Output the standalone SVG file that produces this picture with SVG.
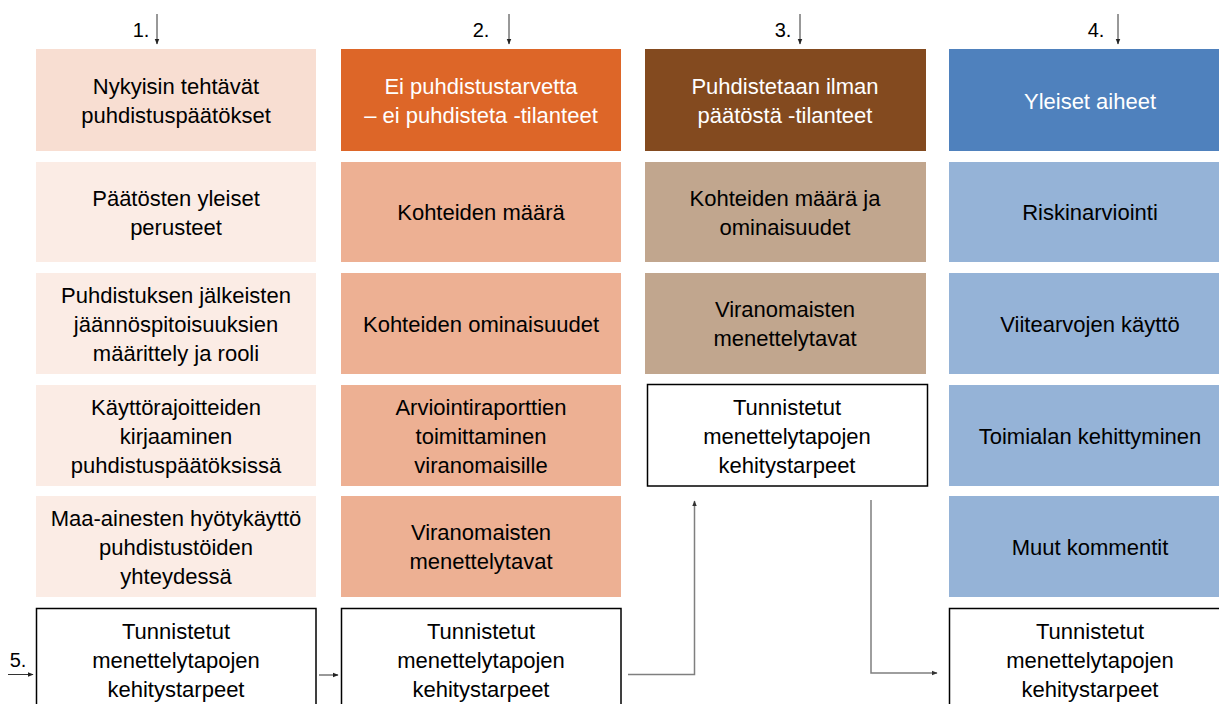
<svg xmlns="http://www.w3.org/2000/svg" width="1219" height="704" viewBox="0 0 1219 704">
  <defs>
    <marker id="arr" viewBox="0 0 10 10" refX="9" refY="5" markerWidth="6" markerHeight="6" markerUnits="userSpaceOnUse" orient="auto">
      <path d="M0,1 L10,5 L0,9 z" fill="#222"/>
    </marker>
    <marker id="arrg" viewBox="0 0 10 10" refX="9" refY="5" markerWidth="6" markerHeight="6" markerUnits="userSpaceOnUse" orient="auto">
      <path d="M0,1 L10,5 L0,9 z" fill="#333"/>
    </marker>
  </defs>
  <style>
    text { font-family: "Liberation Sans", Arial, sans-serif; font-size: 22px; text-anchor: middle; fill: #000; }
    .w { fill: #fff; }
    .num { font-size: 20px; }
    .c1h { fill: #F8DED2; }
    .c1 { fill: #FBECE5; }
    .c2h { fill: #DD6628; }
    .c2 { fill: #EDB093; }
    .c3h { fill: #834A1F; }
    .c3 { fill: #C1A68E; }
    .c4h { fill: #4F81BD; }
    .c4 { fill: #95B3D7; }
    .open { fill: #fff; stroke: #000; stroke-width: 1.5; }
    .short { fill: none; stroke: #333; stroke-width: 1; }
    .route { fill: none; stroke: #7f7f7f; stroke-width: 1.5; }
  </style>

  <rect width="1219" height="704" fill="#fff"/>

  <!-- column numbers -->
  <g id="labels">
    <text class="num" x="141" y="37">1.</text>
    <text class="num" x="481" y="37">2.</text>
    <text class="num" x="783" y="37">3.</text>
    <text class="num" x="1096" y="37">4.</text>
    <text class="num" x="18" y="667">5.</text>
  </g>

  <!-- column 1 -->
  <g id="c1r1"><rect class="c1h" x="36" y="49" width="280" height="102"/>
    <text x="176" y="94">Nykyisin tehtävät</text><text x="176" y="123">puhdistuspäätökset</text></g>
  <g id="c1r2"><rect class="c1" x="36" y="162" width="280" height="100"/>
    <text x="176" y="206">Päätösten yleiset</text><text x="176" y="235">perusteet</text></g>
  <g id="c1r3"><rect class="c1" x="36" y="273" width="280" height="101"/>
    <text x="176" y="303">Puhdistuksen jälkeisten</text><text x="176" y="332">jäännöspitoisuuksien</text><text x="176" y="361">määrittely ja rooli</text></g>
  <g id="c1r4"><rect class="c1" x="36" y="385" width="280" height="101"/>
    <text x="176" y="415">Käyttörajoitteiden</text><text x="176" y="444">kirjaaminen</text><text x="176" y="473">puhdistuspäätöksissä</text></g>
  <g id="c1r5"><rect class="c1" x="36" y="496" width="280" height="101"/>
    <text x="176" y="526">Maa-ainesten hyötykäyttö</text><text x="176" y="555">puhdistustöiden</text><text x="176" y="584">yhteydessä</text></g>
  <g id="c1r6"><rect class="open" x="36.5" y="608.5" width="279.5" height="110"/>
    <text x="176" y="639">Tunnistetut</text><text x="176" y="668">menettelytapojen</text><text x="176" y="697">kehitystarpeet</text></g>

  <!-- column 2 -->
  <g id="c2r1"><rect class="c2h" x="341" y="49" width="280" height="102"/>
    <text class="w" x="481" y="94">Ei puhdistustarvetta</text><text class="w" x="481" y="123">– ei puhdisteta -tilanteet</text></g>
  <g id="c2r2"><rect class="c2" x="341" y="162" width="280" height="100"/>
    <text x="481" y="220">Kohteiden määrä</text></g>
  <g id="c2r3"><rect class="c2" x="341" y="273" width="280" height="101"/>
    <text x="481" y="332">Kohteiden ominaisuudet</text></g>
  <g id="c2r4"><rect class="c2" x="341" y="385" width="280" height="101"/>
    <text x="481" y="415">Arviointiraporttien</text><text x="481" y="444">toimittaminen</text><text x="481" y="473">viranomaisille</text></g>
  <g id="c2r5"><rect class="c2" x="341" y="496" width="280" height="101"/>
    <text x="481" y="540">Viranomaisten</text><text x="481" y="569">menettelytavat</text></g>
  <g id="c2r6"><rect class="open" x="341.5" y="608.5" width="279.5" height="110"/>
    <text x="481" y="639">Tunnistetut</text><text x="481" y="668">menettelytapojen</text><text x="481" y="697">kehitystarpeet</text></g>

  <!-- column 3 -->
  <g id="c3r1"><rect class="c3h" x="645" y="49" width="281" height="102"/>
    <text class="w" x="785" y="94">Puhdistetaan ilman</text><text class="w" x="785" y="123">päätöstä -tilanteet</text></g>
  <g id="c3r2"><rect class="c3" x="645" y="162" width="281" height="100"/>
    <text x="785" y="206">Kohteiden määrä ja</text><text x="785" y="235">ominaisuudet</text></g>
  <g id="c3r3"><rect class="c3" x="645" y="273" width="281" height="101"/>
    <text x="785" y="317">Viranomaisten</text><text x="785" y="346">menettelytavat</text></g>
  <g id="c3r4"><rect class="open" x="647.5" y="384.5" width="280" height="101.5"/>
    <text x="787" y="415">Tunnistetut</text><text x="787" y="444">menettelytapojen</text><text x="787" y="473">kehitystarpeet</text></g>

  <!-- column 4 -->
  <g id="c4r1"><rect class="c4h" x="949" y="49" width="282" height="102"/>
    <text class="w" x="1090" y="109">Yleiset aiheet</text></g>
  <g id="c4r2"><rect class="c4" x="949" y="162" width="282" height="100"/>
    <text x="1090" y="220">Riskinarviointi</text></g>
  <g id="c4r3"><rect class="c4" x="949" y="273" width="282" height="101"/>
    <text x="1090" y="332">Viitearvojen käyttö</text></g>
  <g id="c4r4"><rect class="c4" x="949" y="385" width="282" height="101"/>
    <text x="1090" y="444">Toimialan kehittyminen</text></g>
  <g id="c4r5"><rect class="c4" x="949" y="496" width="282" height="101"/>
    <text x="1090" y="555">Muut kommentit</text></g>
  <g id="c4r6"><rect class="open" x="949.5" y="608.5" width="282" height="110"/>
    <text x="1090" y="639">Tunnistetut</text><text x="1090" y="668">menettelytapojen</text><text x="1090" y="697">kehitystarpeet</text></g>

  <!-- connectors -->
  <g id="connectors">
    <line class="short" x1="157" y1="14" x2="157" y2="44" marker-end="url(#arr)"/>
    <line class="short" x1="509" y1="14" x2="509" y2="44" marker-end="url(#arr)"/>
    <line class="short" x1="800" y1="14" x2="800" y2="44" marker-end="url(#arr)"/>
    <line class="short" x1="1118" y1="14" x2="1118" y2="44" marker-end="url(#arr)"/>
    <line class="short" x1="8" y1="674.5" x2="33" y2="674.5" marker-end="url(#arr)"/>
    <line class="short" x1="319" y1="675" x2="338" y2="675" marker-end="url(#arr)"/>
    <polyline class="route" points="628,674.5 694.5,674.5 694.5,501" marker-end="url(#arrg)"/>
    <polyline class="route" points="871,500 871,673 937,673" marker-end="url(#arrg)"/>
  </g>
</svg>
